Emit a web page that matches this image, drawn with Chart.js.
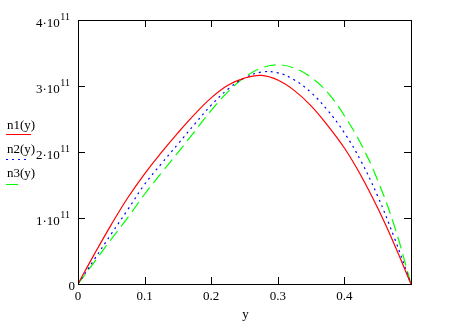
<!DOCTYPE html>
<html>
<head>
<meta charset="utf-8">
<script src="https://cdn.jsdelivr.net/npm/chart.js@4.4.1/dist/chart.umd.min.js"></script>
<style>
  html, body { margin: 0; padding: 0; background: #fff; }
  #wrap { width: 463px; height: 329px; }
</style>
</head>
<body>
<div id="wrap"><canvas id="chart" width="463" height="329"></canvas></div>
<script>
// sample points along y
const yValues = [0, 0.025, 0.05, 0.075, 0.1, 0.125, 0.15, 0.175, 0.2, 0.225, 0.25,
                 0.275, 0.3, 0.325, 0.35, 0.375, 0.4, 0.425, 0.45, 0.475, 0.5];

// values
const n1Values = [0, 0.46e11, 0.90e11, 1.31e11, 1.67e11, 1.99e11, 2.29e11, 2.57e11, 2.82e11, 3.01e11, 3.12e11,
                  3.16e11, 3.09e11, 2.93e11, 2.70e11, 2.40e11, 2.06e11, 1.64e11, 1.15e11, 0.60e11, 0];
const n2Values = [0, 0.38e11, 0.76e11, 1.13e11, 1.51e11, 1.82e11, 2.12e11, 2.42e11, 2.71e11, 2.95e11, 3.12e11,
                  3.21e11, 3.20e11, 3.09e11, 2.90e11, 2.63e11, 2.29e11, 1.86e11, 1.33e11, 0.70e11, 0];
const n3Values = [0, 0.34e11, 0.68e11, 1.01e11, 1.36e11, 1.68e11, 1.99e11, 2.31e11, 2.63e11, 2.91e11, 3.13e11,
                  3.27e11, 3.32e11, 3.27e11, 3.13e11, 2.90e11, 2.55e11, 2.12e11, 1.57e11, 0.88e11, 0];

const seriesLabels = ['n1(y)', 'n2(y)', 'n3(y)'];

const xTicks = [0, 0.1, 0.2, 0.3, 0.4];
const xTickLabels = ['0', '0.1', '0.2', '0.3', '0.4'];
const yTicks = [0, 1e11, 2e11, 3e11, 4e11];
const yTickMantissas = ['0', '1', '2', '3', '4'];
const yTickExponent = '11';
const xAxisTitle = 'y';

const toPoints = (vals) => vals.map((v, i) => ({ x: yValues[i], y: v }));

const FONT = '"Liberation Serif", "Times New Roman", serif';

// frame, inward ticks, tick labels and the side legend
const mathcadFrame = {
  id: 'mathcadFrame',
  afterDraw(chart) {
    const { ctx, chartArea: a, scales: { x, y } } = chart;
    ctx.save();
    ctx.strokeStyle = '#000';
    ctx.lineWidth = 1;
    ctx.strokeRect(a.left + 0.5, a.top + 0.5, a.right - a.left, a.bottom - a.top);

    const tickLen = 7;
    ctx.beginPath();
    xTicks.forEach(v => {
      const px = Math.round(x.getPixelForValue(v)) + 0.5;
      if (px <= a.left + 1 || px >= a.right - 1) return;
      ctx.moveTo(px, a.bottom);
      ctx.lineTo(px, a.bottom - tickLen);
      ctx.moveTo(px, a.top);
      ctx.lineTo(px, a.top + tickLen);
    });
    yTicks.forEach(v => {
      const py = Math.round(y.getPixelForValue(v)) + 0.5;
      if (py <= a.top + 1 || py >= a.bottom - 1) return;
      ctx.moveTo(a.left, py);
      ctx.lineTo(a.left + tickLen, py);
      ctx.moveTo(a.right, py);
      ctx.lineTo(a.right - tickLen, py);
    });
    ctx.stroke();

    ctx.fillStyle = '#000';
    ctx.textBaseline = 'alphabetic';

    // x tick labels
    ctx.font = '13px ' + FONT;
    ctx.textAlign = 'center';
    xTicks.forEach((v, i) => {
      ctx.fillText(xTickLabels[i], x.getPixelForValue(v), a.bottom + 16);
    });
    ctx.fillText(xAxisTitle, (a.left + a.right) / 2 + 1, a.bottom + 34);

    // y tick labels with superscript exponent
    yTicks.forEach((v, i) => {
      const py = y.getPixelForValue(v);
      ctx.textAlign = 'right';
      if (v === 0) {
        ctx.font = '13px ' + FONT;
        ctx.fillText(yTickMantissas[i], a.left - 3, py + 6);
        return;
      }
      ctx.font = '10px ' + FONT;
      const supW = ctx.measureText(yTickExponent).width;
      const right = a.left - 8;
      ctx.fillText(yTickExponent, right, py);
      ctx.font = '13px ' + FONT;
      ctx.fillText(yTickMantissas[i] + '\u00B710', right - supW - 0.5, py + 6.5);
    });

    // legend on the left
    const baselines = [129, 153, 177];
    const lineYs = [134, 159, 184];
    const lineLens = [25, 21, 17];
    chart.data.datasets.forEach((ds, i) => {
      ctx.font = '13px ' + FONT;
      ctx.textAlign = 'left';
      ctx.fillStyle = '#000';
      ctx.fillText(ds.label, 7, baselines[i]);
      ctx.save();
      ctx.strokeStyle = ds.borderColor;
      ctx.lineWidth = 1;
      ctx.setLineDash(ds.borderDash || []);
      ctx.beginPath();
      ctx.moveTo(6, lineYs[i] + 0.5);
      ctx.lineTo(6 + lineLens[i], lineYs[i] + 0.5);
      ctx.stroke();
      ctx.restore();
    });
    ctx.restore();
  }
};

const lineDataset = (label, vals, color, dash) => ({
  label,
  data: toPoints(vals),
  borderColor: color,
  borderWidth: 1.2,
  borderDash: dash,
  pointRadius: 0,
  fill: false,
  tension: 0.4
});

new Chart(document.getElementById('chart').getContext('2d'), {
  type: 'line',
  data: {
    datasets: [
      lineDataset(seriesLabels[0], n1Values, 'rgb(255, 0, 0)', []),
      lineDataset(seriesLabels[1], n2Values, 'rgb(0, 0, 255)', [2, 4]),
      lineDataset(seriesLabels[2], n3Values, 'rgb(0, 255, 0)', [12, 6])
    ]
  },
  options: {
    responsive: false,
    animation: false,
    devicePixelRatio: 1,
    layout: { padding: { left: 78, right: 52, top: 20, bottom: 45 } },
    plugins: {
      legend: { display: false },
      tooltip: { enabled: false }
    },
    scales: {
      x: { type: 'linear', min: 0, max: 0.5, display: false },
      y: { type: 'linear', min: 0, max: 4e11, display: false }
    }
  },
  plugins: [mathcadFrame]
});
</script>
</body>
</html>
